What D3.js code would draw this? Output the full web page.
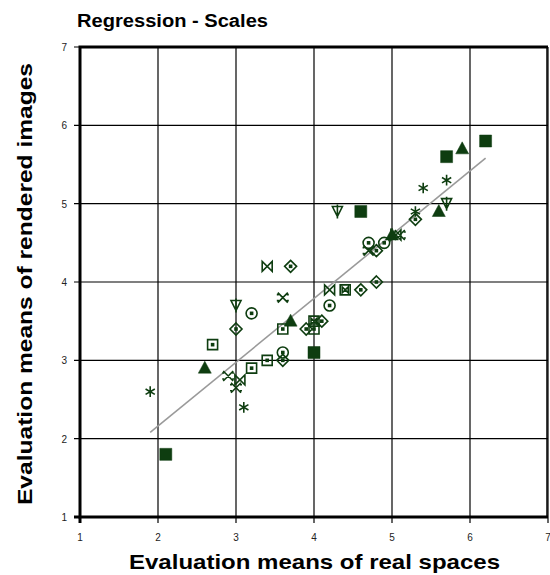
<!DOCTYPE html>
<html>
<head>
<meta charset="utf-8">
<script src="https://cdn.jsdelivr.net/npm/d3@7"></script>
<style>
  body { margin: 0; background: #fff; }
  svg text { font-family: "Liberation Sans", Arial, sans-serif; }
</style>
</head>
<body>
<div id="chart"></div>
<script>
// series: [real spaces, rendered images]
const filledSquare = [[2.1, 1.8], [4.0, 3.1], [4.6, 4.9], [5.7, 5.6], [6.2, 5.8]];
const filledTriangle = [[2.6, 2.9], [3.7, 3.5], [5.0, 4.6], [5.6, 4.9], [5.9, 5.7]];
const asterisk = [[1.9, 2.6], [3.1, 2.4], [5.3, 4.9], [5.4, 5.2], [5.7, 5.3]];
const downTriangle = [[3.0, 3.7], [4.3, 4.9], [5.7, 5.0]];
const diamondDot = [[3.0, 3.4], [3.6, 3.0], [3.7, 4.2], [3.9, 3.4], [4.1, 3.5], [4.6, 3.9], [4.8, 4.0], [4.8, 4.4], [5.3, 4.8]];
const circleDot = [[3.2, 3.6], [3.6, 3.1], [4.2, 3.7], [4.7, 4.5], [4.9, 4.5]];
const squareDot = [[2.7, 3.2], [3.2, 2.9], [3.4, 3.0], [3.6, 3.4], [4.0, 3.4]];
const bowtie = [[3.4, 4.2], [4.2, 3.9], [3.05, 2.75], [5.05, 4.6]];
const crossMark = [[3.6, 3.8], [2.9, 2.8], [3.0, 2.65], [4.7, 4.4], [5.1, 4.6]];
const squareBowtie = [[4.4, 3.9], [4.0, 3.5]];

const regX = [1.9, 6.2];
const regY = [2.08, 5.58];

const ticks = [1, 2, 3, 4, 5, 6, 7];

const width = 550, height = 575;
const green = "#0e3d10";

const x = d3.scaleLinear([1, 7], [80, 548]);
const y = d3.scaleLinear([1, 7], [517, 47]);

const svg = d3.select("#chart").append("svg")
  .attr("width", width)
  .attr("height", height);

// grid
svg.append("g")
  .attr("stroke", "#000")
  .attr("stroke-width", 1.2)
  .call(g => g.selectAll(".vx").data(ticks.slice(1)).join("line")
    .attr("x1", d => x(d)).attr("x2", d => x(d))
    .attr("y1", y(7)).attr("y2", y(1) + 6))
  .call(g => g.selectAll(".hy").data(ticks.slice(1)).join("line")
    .attr("y1", d => y(d)).attr("y2", d => y(d))
    .attr("x1", x(1) - 6).attr("x2", x(7)));

// frame
svg.append("path")
  .attr("fill", "none")
  .attr("stroke", "#000")
  .attr("stroke-width", 3)
  .attr("d", `M${x(7)},${y(7)}H${x(1)}V${y(1)}H${x(7)}`);
svg.append("line")
  .attr("stroke", "#000").attr("stroke-width", 1.5)
  .attr("x1", x(7) - 1).attr("x2", x(7) - 1).attr("y1", y(7)).attr("y2", y(1));
svg.append("line")
  .attr("stroke", "#000").attr("stroke-width", 3)
  .attr("x1", x(1)).attr("x2", x(1)).attr("y1", y(1)).attr("y2", y(1) + 6);
svg.append("line")
  .attr("stroke", "#000").attr("stroke-width", 3)
  .attr("x1", x(1) - 6).attr("x2", x(1)).attr("y1", y(1)).attr("y2", y(1));

// tick labels
svg.append("g")
  .attr("font-size", 10)
  .attr("fill", "#222")
  .attr("text-anchor", "middle")
  .selectAll("text").data(ticks).join("text")
  .attr("x", d => x(d))
  .attr("y", y(1) + 24)
  .text(d => d);
svg.append("g")
  .attr("font-size", 10)
  .attr("fill", "#222")
  .attr("text-anchor", "end")
  .selectAll("text").data(ticks).join("text")
  .attr("x", x(1) - 13)
  .attr("y", d => y(d) + 4)
  .text(d => d);

// regression line
svg.append("line")
  .attr("stroke", "#9a9a9a")
  .attr("stroke-width", 1.6)
  .attr("x1", x(regX[0])).attr("y1", y(regY[0]))
  .attr("x2", x(regX[1])).attr("y2", y(regY[1]));

// marker shapes
const s = 5;
const shapes = {
  filledSquare: { fill: true, d: `M${-6},${-6}h12v12h-12z` },
  filledTriangle: { fill: true, d: `M0,-7L6.5,5H-6.5Z` },
  asterisk: { fill: false, d: d3.symbol(d3.symbolAsterisk, 80)() },
  downTriangle: { fill: false, d: `M${-s},${-s}H${s}L0,${s}Z M0,${-s - 2}V${s + 2}` },
  diamondDot: { fill: false, d: `M0,${-s - 1}L${s + 1},0L0,${s + 1}L${-s - 1},0Z`, dot: true },
  circleDot: { fill: false, d: d3.symbol(d3.symbolCircle, 95)(), dot: true },
  squareDot: { fill: false, d: `M${-s},${-s}h${2 * s}v${2 * s}h${-2 * s}z`, dot: true },
  bowtie: { fill: false, d: `M${-s},${-s}V${s}L${s},${-s}V${s}Z` },
  crossMark: { fill: false, d: `M${-s},${-s}L${s},${s}M${s},${-s}L${-s},${s}M${-s - 1},${-s + 2}h2M${s - 1},${-s + 2}h2M${-s - 1},${s - 2}h2M${s - 1},${s - 2}h2` },
  squareBowtie: { fill: false, d: `M${-s},${-s}h${2 * s}v${2 * s}h${-2 * s}z M${-s + 2},${-s + 2}V${s - 2}L${s - 2},${-s + 2}V${s - 2}Z` }
};

const series = [
  ["squareDot", squareDot],
  ["circleDot", circleDot],
  ["diamondDot", diamondDot],
  ["bowtie", bowtie],
  ["squareBowtie", squareBowtie],
  ["crossMark", crossMark],
  ["downTriangle", downTriangle],
  ["asterisk", asterisk],
  ["filledTriangle", filledTriangle],
  ["filledSquare", filledSquare]
];

series.forEach(([name, pts]) => {
  const shape = shapes[name];
  const g = svg.append("g").selectAll("g").data(pts).join("g")
    .attr("transform", d => `translate(${x(d[0])},${y(d[1])})`);
  g.append("path")
    .attr("d", shape.d)
    .attr("fill", shape.fill ? green : "none")
    .attr("stroke", green)
    .attr("stroke-width", shape.fill ? 0.5 : 1.6);
  if (shape.dot) {
    g.append("rect")
      .attr("x", -1.8).attr("y", -1.8)
      .attr("width", 3.6).attr("height", 3.6)
      .attr("fill", green);
  }
});

// titles
svg.append("text")
  .attr("x", 77)
  .attr("y", 27)
  .attr("font-size", 18)
  .attr("font-weight", "bold")
  .attr("textLength", 191)
  .attr("lengthAdjust", "spacingAndGlyphs")
  .text("Regression - Scales");

svg.append("text")
  .attr("x", 129)
  .attr("y", 569)
  .attr("font-size", 21)
  .attr("font-weight", "bold")
  .attr("textLength", 371)
  .attr("lengthAdjust", "spacingAndGlyphs")
  .text("Evaluation means of real spaces");

svg.append("text")
  .attr("transform", `translate(32,505) rotate(-90)`)
  .attr("font-size", 21)
  .attr("font-weight", "bold")
  .attr("textLength", 442)
  .attr("lengthAdjust", "spacingAndGlyphs")
  .text("Evaluation means of rendered images");
</script>
</body>
</html>
